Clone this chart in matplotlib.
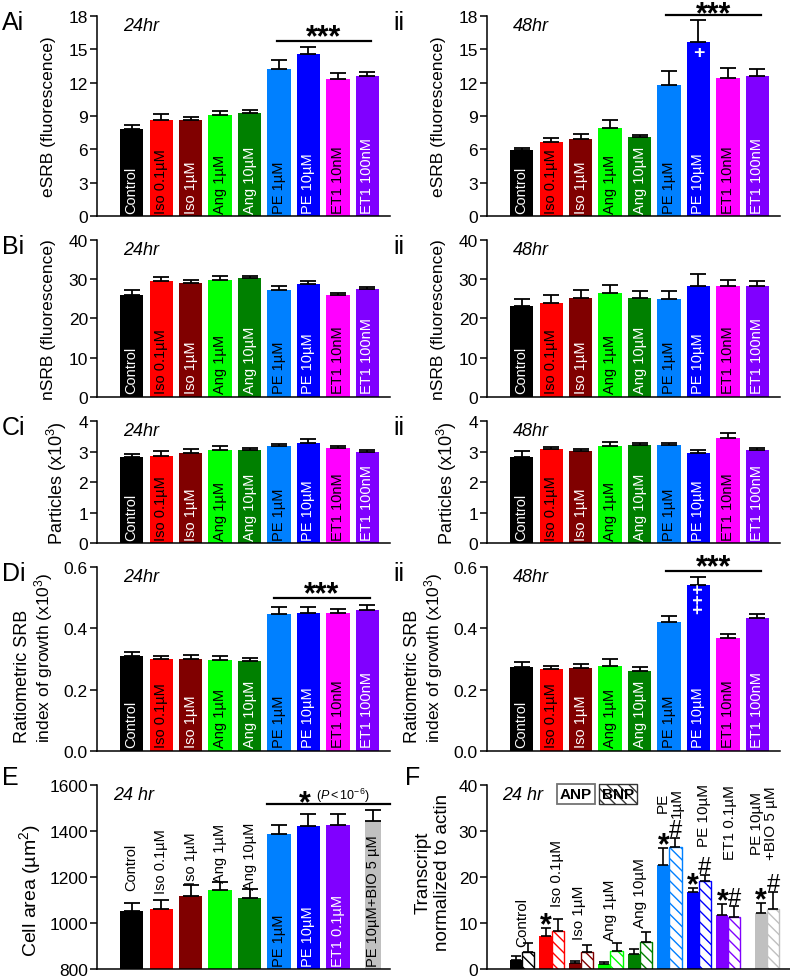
import numpy as np
import matplotlib
matplotlib.use('Agg')
import matplotlib.pyplot as plt

plt.rcParams['font.family'] = ['Liberation Sans', 'DejaVu Sans']
plt.rcParams['mathtext.fontset'] = 'custom'
plt.rcParams['mathtext.rm'] = 'Liberation Sans'
plt.rcParams['mathtext.it'] = 'Liberation Sans:italic'
plt.rcParams['hatch.linewidth'] = 1.0

# treatment groups (panels A-D)
groups = ['Control', 'Iso 0.1µM', 'Iso 1µM', 'Ang 1µM', 'Ang 10µM',
          'PE 1µM', 'PE 10µM', 'ET1 10nM', 'ET1 100nM']
colors = ['#000000', '#FF0000', '#800000', '#00FF00', '#008000',
          '#0080FF', '#0000FF', '#FF00FF', '#8000FF']
txt_colors = ['white', 'black', 'white', 'black', 'white',
              'black', 'white', 'black', 'white']

# groups for E and F
groups_ef = ['Control', 'Iso 0.1µM', 'Iso 1µM', 'Ang 1µM', 'Ang 10µM',
             'PE 1µM', 'PE 10µM', 'ET1 0.1µM', 'PE 10µM+BIO 5 µM']
colors_ef = ['#000000', '#FF0000', '#800000', '#00FF00', '#008000',
             '#0080FF', '#0000FF', '#8000FF', '#C0C0C0']

# A: eSRB
esrb24 = [7.8, 8.65, 8.65, 9.07, 9.28, 13.27, 14.6, 12.3, 12.64]
esrb24_err = [0.4, 0.55, 0.3, 0.36, 0.27, 0.73, 0.63, 0.6, 0.33]
esrb48 = [5.9, 6.67, 6.9, 7.9, 7.09, 11.83, 15.68, 12.43, 12.64]
esrb48_err = [0.25, 0.36, 0.5, 0.75, 0.24, 1.23, 1.95, 0.9, 0.63]
# B: nSRB
nsrb24 = [26.0, 29.66, 29.0, 29.8, 30.3, 27.3, 28.8, 26.0, 27.4]
nsrb24_err = [1.3, 0.84, 0.8, 0.9, 0.5, 0.9, 0.7, 0.6, 0.6]
nsrb48 = [23.1, 24.0, 25.2, 26.4, 25.1, 25.0, 28.3, 28.3, 28.3]
nsrb48_err = [1.8, 2.1, 2.0, 2.2, 1.8, 2.1, 2.9, 1.5, 1.3]
# C: particles
part24 = [2.83, 2.86, 2.96, 3.04, 3.05, 3.18, 3.29, 3.11, 3.0]
part24_err = [0.10, 0.16, 0.11, 0.13, 0.07, 0.07, 0.11, 0.08, 0.06]
part48 = [2.83, 3.08, 3.01, 3.18, 3.20, 3.20, 2.94, 3.46, 3.04]
part48_err = [0.18, 0.07, 0.07, 0.12, 0.08, 0.08, 0.12, 0.14, 0.07]
# D: ratiometric index
ratio24 = [0.309, 0.300, 0.301, 0.296, 0.295, 0.448, 0.451, 0.449, 0.461]
ratio24_err = [0.013, 0.011, 0.012, 0.013, 0.007, 0.022, 0.020, 0.014, 0.014]
ratio48 = [0.274, 0.268, 0.272, 0.278, 0.262, 0.422, 0.542, 0.368, 0.433]
ratio48_err = [0.015, 0.010, 0.013, 0.022, 0.012, 0.018, 0.025, 0.014, 0.014]
# E: cell area
area = [1051, 1062, 1117, 1143, 1107, 1386, 1420, 1426, 1445]
area_err = [36, 39, 48, 34, 39, 39, 54, 48, 46]
# F: transcripts
anp = [2.0, 7.25, 1.23, 1.1, 3.26, 22.6, 16.8, 11.7, 12.2]
anp_err = [0.9, 1.75, 0.57, 0.35, 1.04, 3.8, 0.9, 2.36, 2.15]
bnp = [3.8, 8.2, 3.6, 3.84, 5.8, 26.45, 19.06, 11.4, 13.1]
bnp_err = [1.85, 2.7, 1.6, 1.76, 2.3, 1.95, 1.34, 2.2, 3.6]
anp_sig = [False, True, False, False, False, True, True, True, True]
bnp_sig = [False, False, False, False, False, True, True, True, True]

fig = plt.figure(figsize=(7.9, 9.79), dpi=100)

LX, RX, W = 97 / 790, 487 / 790, 293 / 790
rows = {'A': (0.7783, 0.2043), 'B': (0.5935, 0.1604), 'C': (0.4443, 0.1246),
        'D': (0.2319, 0.1879), 'E': (0.0092, 0.1879)}


def style(ax, ylim, yticks, fmt=None):
    ax.set_ylim(*ylim)
    ax.set_yticks(yticks)
    if fmt:
        ax.set_yticklabels([fmt % t for t in yticks])
    ax.set_xticks([])
    for s in ['top', 'right']:
        ax.spines[s].set_visible(False)
    ax.spines['left'].set_linewidth(1.1)
    ax.spines['bottom'].set_linewidth(1.1)
    ax.tick_params(axis='y', length=5, width=1.1, labelsize=12.5, pad=1.5)


def mark(ax, x, y, s, dy, size, bold=True):
    # dy: baseline offset in points from (x, y)
    ax.annotate(s, (x, y), xytext=(0, dy), textcoords='offset points',
                ha='center', va='baseline', fontsize=size,
                fontweight='bold' if bold else 'normal', annotation_clip=False)


def sig_bar(ax, x0, x1, y, dy=-3.0):
    ax.plot([x0, x1], [y, y], color='k', lw=1.6, clip_on=False)
    mark(ax, (x0 + x1) / 2, y, '***', dy, 22)


def bar_panel(row, side, vals, errs, ylim, yticks, ylabel, lab_x, time,
              tag, fmt=None, lab_size=12.5):
    b, h = rows[row]
    ax = fig.add_axes([LX if side == 0 else RX, b, W, h])
    x = np.arange(len(vals))
    ax.bar(x, vals, width=0.79, color=colors)
    ax.errorbar(x, vals, yerr=[np.zeros(len(errs)), errs], fmt='none',
                ecolor='k', elinewidth=1.3, capsize=6, capthick=1.3)
    for i in x:
        ax.annotate(groups[i], (i, ylim[0]), xytext=(0, 2.5),
                    textcoords='offset points', rotation=90, ha='center',
                    va='bottom', color=txt_colors[i], fontsize=10.5)
    ax.set_xlim(-1.18, 8.77)
    style(ax, ylim, yticks, fmt)
    if ylabel:
        ax.set_ylabel(ylabel, fontsize=lab_size)
        ax.yaxis.set_label_coords(lab_x, 0.5)
    ax.text(0.089, 0.995, time, transform=ax.transAxes, ha='left', va='top',
            fontsize=13, style='italic')
    fx = 2 / 790 if side == 0 else 393 / 790
    fig.text(fx, b + h + 0.006, tag, fontsize=18, ha='left', va='top')
    return ax


def d_label(ax):
    ax.text(-0.253, 0.049, 'Ratiometric SRB', transform=ax.transAxes,
            rotation=90, ha='center', va='bottom', fontsize=13)
    ax.text(-0.182, 0.049, 'index of growth (x10$^3$)', transform=ax.transAxes,
            rotation=90, ha='center', va='bottom', fontsize=12.5)


# ---- row A
ax = bar_panel('A', 0, esrb24, esrb24_err, (0, 18), range(0, 19, 3),
               'eSRB (fluorescence)', -0.140, '24hr', 'Ai')
sig_bar(ax, 4.92, 8.14, 15.75)
ax = bar_panel('A', 1, esrb48, esrb48_err, (0, 18), range(0, 19, 3),
               'eSRB (fluorescence)', -0.140, '48hr', 'ii')
sig_bar(ax, 4.9, 8.13, 18.1, dy=-5.6)
ax.text(6, 14.7, '+', color='white', ha='center', va='center',
        fontsize=14, fontweight='bold')

# ---- row B
bar_panel('B', 0, nsrb24, nsrb24_err, (0, 40), range(0, 41, 10),
          'nSRB (fluorescence)', -0.140, '24hr', 'Bi')
bar_panel('B', 1, nsrb48, nsrb48_err, (0, 40), range(0, 41, 10),
          'nSRB (fluorescence)', -0.140, '48hr', 'ii')

# ---- row C
bar_panel('C', 0, part24, part24_err, (0, 4), range(0, 5),
          'Particles (x10$^3$)', -0.095, '24hr', 'Ci', lab_size=13)
bar_panel('C', 1, part48, part48_err, (0, 4), range(0, 5),
          'Particles (x10$^3$)', -0.095, '48hr', 'ii', lab_size=13)

# ---- row D
ax = bar_panel('D', 0, ratio24, ratio24_err, (0, 0.6), [0, 0.2, 0.4, 0.6],
               None, 0, '24hr', 'Di', fmt='%.1f')
d_label(ax)
sig_bar(ax, 4.83, 8.09, 0.499)
ax = bar_panel('D', 1, ratio48, ratio48_err, (0, 0.6), [0, 0.2, 0.4, 0.6],
               None, 0, '48hr', 'ii', fmt='%.1f')
d_label(ax)
sig_bar(ax, 4.9, 8.13, 0.586)
ax.text(6, 0.5, '+++', color='white', ha='center', va='center', rotation=90,
        fontsize=13, fontweight='bold')

# ---- panel E
b, h = rows['E']
ax = fig.add_axes([LX, b, W, h])
xe = np.array([0, 1, 2, 3, 4, 5, 6, 7, 8.19])
we = [0.79] * 8 + [0.54]
ax.bar(xe, area, width=we, color=colors_ef)
ax.errorbar(xe, area, yerr=[np.zeros(9), area_err], fmt='none', ecolor='k',
            elinewidth=1.3, capsize=6, capthick=1.3)
e_gap = [9, 5, 1, 0, 0]
for i in range(9):
    if i < 5:
        ax.annotate(groups_ef[i], (xe[i], area[i] + area_err[i]),
                    xytext=(0, e_gap[i]), textcoords='offset points',
                    rotation=90, ha='center', va='bottom', fontsize=10.5)
    else:
        c = 'white' if i in (6, 7) else 'black'
        ax.annotate(groups_ef[i], (xe[i], 800), xytext=(0, 2.5),
                    textcoords='offset points', rotation=90, ha='center',
                    va='bottom', fontsize=10.5, color=c)
ax.set_xlim(-1.18, 8.77)
style(ax, (800, 1600), range(800, 1601, 200))
ax.set_ylabel('Cell area (µm$^2$)', fontsize=14)
ax.yaxis.set_label_coords(-0.185, 0.43)
ax.text(0.055, 0.995, '24 hr', transform=ax.transAxes, ha='left', va='top',
        fontsize=13, style='italic')
ax.plot([4.58, 8.77], [1517, 1517], color='k', lw=1.6, clip_on=False)
mark(ax, 5.88, 1517, '*', -5.0, 22)
ax.annotate(r'$\mathit{(P<10^{-6})}$', (6.25, 1517), xytext=(0, 6.5),
            textcoords='offset points', ha='left', va='center', fontsize=9)
fig.text(2 / 790, b + h + 0.02, 'E', fontsize=18, ha='left', va='top')

# ---- panel F
ax = fig.add_axes([RX, b, 303 / 790, h])
xf = np.array([0, 1, 2, 3, 4, 5, 6, 7, 8.31])
wf = 0.41
ax.bar(xf - wf / 2, anp, wf, color=colors_ef)
ax.bar(xf + wf / 2, bnp, wf, color='white', edgecolor=colors_ef,
       hatch='\\\\\\', linewidth=1.0)
ax.errorbar(xf - wf / 2, anp, yerr=[np.zeros(9), anp_err], fmt='none',
            ecolor='k', elinewidth=1.2, capsize=3.5, capthick=1.2)
ax.errorbar(xf + wf / 2, bnp, yerr=[np.zeros(9), bnp_err], fmt='none',
            ecolor='k', elinewidth=1.2, capsize=3.5, capthick=1.2)
for i in range(9):
    if anp_sig[i]:
        mark(ax, xf[i] - wf / 2, anp[i] + anp_err[i], '*', -3.8, 22)
    if bnp_sig[i]:
        mark(ax, xf[i] + wf / 2, bnp[i] + bnp_err[i], '#', 1.5, 17, bold=False)
f_lab = ['Control', 'Iso 0.1µM', 'Iso 1µM', 'Ang 1µM', 'Ang 10µM',
         'PE\n1µM', 'PE 10µM', 'ET1 0.1µM', 'PE 10µM\n+BIO 5 µM']
f_lab_y = [4.9, 13.8, 6.5, 6.2, 9.1, 33.0, 26.8, 23.9, 23.9]
f_lab_dx = [0, 0.17, -0.08, 0, 0, 0, 0.16, 0.07, -0.1]
for i in range(9):
    ax.text(xf[i] + f_lab_dx[i], f_lab_y[i], f_lab[i], rotation=90,
            ha='center', va='bottom', fontsize=11, linespacing=1.0)
ax.set_xlim(-1.19, 9.09)
style(ax, (0, 40), range(0, 41, 10))
ax.set_ylabel('Transcript\nnormalized to actin', fontsize=13.5)
ax.yaxis.set_label_coords(-0.118, 0.53)
ax.text(0.05, 0.995, '24 hr', transform=ax.transAxes, ha='left', va='top',
        fontsize=13, style='italic')
ax.text(0.294, 0.951, 'ANP', transform=ax.transAxes, ha='center',
        va='center', fontsize=11, fontweight='bold',
        bbox=dict(boxstyle='square,pad=0.2', fc='white', ec='0.45', lw=1.3))
ax.text(0.432, 0.951, 'BNP', transform=ax.transAxes, ha='center',
        va='center', fontsize=11, fontweight='bold',
        bbox=dict(boxstyle='square,pad=0.2', fc='white', ec='0.2', lw=1.0,
                  hatch='\\\\\\'))
fig.text(405 / 790, b + h + 0.02, 'F', fontsize=18, ha='left', va='top')

fig.savefig('out.png', dpi=100)
